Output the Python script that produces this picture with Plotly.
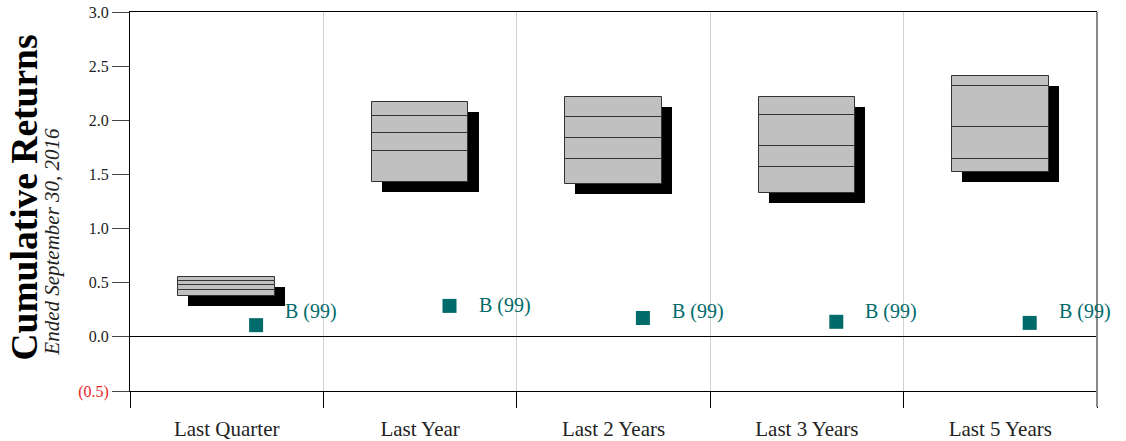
import plotly.graph_objects as go

# Periods and floating-bar breakpoints (top to bottom of each box)
periods = ["Last Quarter", "Last Year", "Last 2 Years", "Last 3 Years", "Last 5 Years"]
pct_95 = [0.551, 2.172, 2.213, 2.213, 2.412]
pct_75 = [0.520, 2.043, 2.034, 2.052, 2.317]
pct_50 = [0.480, 1.886, 1.840, 1.763, 1.941]
pct_25 = [0.434, 1.714, 1.643, 1.572, 1.640]
pct_05 = [0.378, 1.434, 1.412, 1.326, 1.520]

# Fund returns and their rank label
fund_returns = [0.108, 0.286, 0.174, 0.139, 0.129]
fund_labels = ["B (99)", "B (99)", "B (99)", "B (99)", "B (99)"]

y_ticks = [-0.5, 0.0, 0.5, 1.0, 1.5, 2.0, 2.5, 3.0]
y_ticktext = ['<span style="color:#e8261f">(0.5)</span>', "0.0", "0.5", "1.0",
              "1.5", "2.0", "2.5", "3.0"]

FONT = "Liberation Serif"
TEAL = "#006b6b"
BOX_W = 0.5
SHADOW_DX = 0.052   # shadow offset, category units
SHADOW_DY = 0.092   # shadow offset, return units
MARK_DX = 0.152     # fund marker offset from the period centre

xs = list(range(len(periods)))
fig = go.Figure()

# drop shadow behind each box
fig.add_trace(go.Bar(
    x=[x + SHADOW_DX for x in xs],
    base=[b - SHADOW_DY for b in pct_05],
    y=[t - b for t, b in zip(pct_95, pct_05)],
    width=BOX_W, marker=dict(color="black", line=dict(width=0)),
    hoverinfo="skip", showlegend=False))

# stacked quartile segments of each box
bands = [pct_05, pct_25, pct_50, pct_75, pct_95]
for lo, hi in zip(bands[:-1], bands[1:]):
    fig.add_trace(go.Bar(
        x=xs, base=lo, y=[h - l for h, l in zip(hi, lo)],
        width=BOX_W,
        marker=dict(color="#c0c0c0", line=dict(color="#333333", width=1)),
        showlegend=False))

# fund markers
fig.add_trace(go.Scatter(
    x=[x + MARK_DX for x in xs], y=fund_returns, mode="markers",
    marker=dict(symbol="square", size=14, color=TEAL),
    showlegend=False))

for x, v, lab in zip(xs, fund_returns, fund_labels):
    fig.add_annotation(
        x=x + MARK_DX, y=max(v, 0.235), text=lab, showarrow=False,
        xanchor="left", yanchor="middle", xshift=27,
        font=dict(family=FONT, size=20, color=TEAL))

# vertical axis titles
fig.add_annotation(
    xref="paper", yref="paper", x=-0.109, y=0.074, textangle=-90,
    text="<b>Cumulative Returns</b>", showarrow=False,
    xanchor="center", yanchor="bottom",
    font=dict(family=FONT, size=37.5, color="black"))
fig.add_annotation(
    xref="paper", yref="paper", x=-0.081, y=0.087, textangle=-90,
    text="<i>Ended September 30, 2016</i>", showarrow=False,
    xanchor="center", yanchor="bottom",
    font=dict(family=FONT, size=21, color="#222222"))

# right border of the plotting area
fig.add_shape(type="line", xref="paper", yref="paper", x0=1, x1=1, y0=-0.042, y1=1,
              line=dict(color="#888888", width=2))

fig.update_layout(
    width=1126, height=441,
    margin=dict(l=130, r=29, t=12, b=50),
    plot_bgcolor="white", paper_bgcolor="white",
    barmode="overlay", bargap=0,
    font=dict(family=FONT, color="#222222"),
    xaxis=dict(
        range=[-0.5, 4.5], tickmode="array", tickvals=xs, ticktext=periods,
        ticks="outside", ticklen=19, tickcolor="rgba(0,0,0,0)",
        tickfont=dict(family=FONT, size=21, color="#222222"),
        showgrid=False, zeroline=False, automargin=False,
        showline=True, linecolor="black", linewidth=1, mirror=True,
        minor=dict(tickmode="linear", tick0=-0.5, dtick=1, ticks="outside",
                   ticklen=16, tickcolor="black", tickwidth=1,
                   showgrid=True, gridcolor="#d0d0d0", gridwidth=1),
    ),
    yaxis=dict(
        range=[-0.5, 3.0], tickmode="array", tickvals=y_ticks, ticktext=y_ticktext,
        ticks="outside", ticklen=17, tickcolor="#444444",
        tickfont=dict(family=FONT, size=16, color="#222222"),
        showgrid=False, zeroline=True, zerolinecolor="black", zerolinewidth=1,
        showline=True, linecolor="black", linewidth=1, automargin=False,
    ),
)

fig.write_html("out.html")
